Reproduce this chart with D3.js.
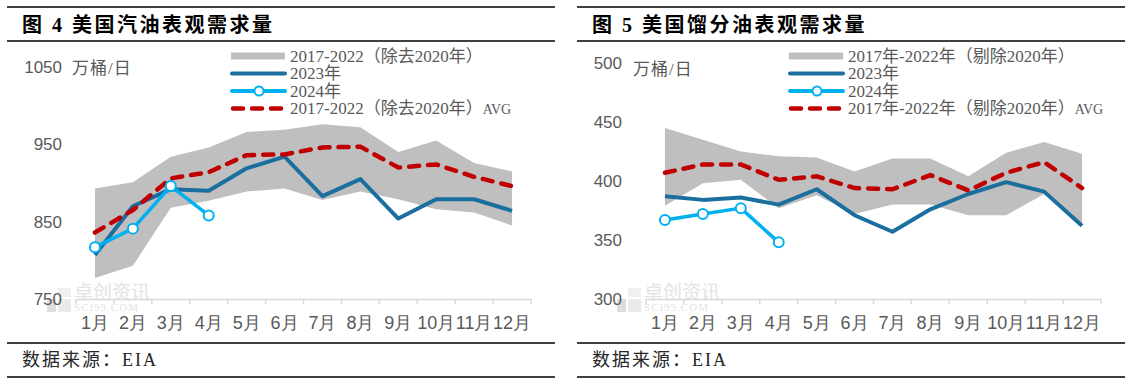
<!DOCTYPE html>
<html>
<head>
<meta charset="utf-8">
<script src="https://cdn.jsdelivr.net/npm/d3@7"></script>
<style>
  body { margin: 0; background: #fff; }
  svg { display: block; font-family: 'Liberation Serif', 'Noto Sans CJK SC', serif; }
</style>
</head>
<body>
<svg id="chart" width="1130" height="384"></svg>
<script>
// months on the x axis
var months = ["1月","2月","3月","4月","5月","6月","7月","8月","9月","10月","11月","12月"];

// 图4 汽油 (万桶/日)
var gasHigh = [893, 901, 934, 946, 966, 969, 976, 972, 940, 955, 926, 915];
var gasLow  = [777, 793, 868, 877, 889, 893, 878, 889, 879, 866, 862, 845];
var gas2023 = [807, 870, 892, 890, 919, 934, 883, 905, 854, 879, 879, 864];
var gas2024 = [817, 841, 896, 858];
var gasAvg  = [836, 865, 906, 914, 936, 937, 946, 947, 920, 924, 908, 896];
var gasTicks = [750, 850, 950, 1050];

// 图5 馏分油 (万桶/日)
var distHigh = [445, 435, 425, 421, 420, 408, 419, 419, 404, 424, 433, 423];
var distLow  = [379, 398, 401, 377, 388, 372, 380, 380, 371, 371, 389, 362];
var dist2023 = [387, 384, 386, 380, 393, 371, 357, 376, 389, 399, 391, 362];
var dist2024 = [367, 372, 377, 348];
var distAvg  = [407, 414, 414, 401, 404, 394, 393, 405, 392, 407, 416, 394];
var distTicks = [300, 350, 400, 450, 500];

var gray = "#bfbfbf", dark = "#1b6f9f", light = "#00b0f0", red = "#c00000", txt = "#595959";

var svg = d3.select("#chart");

function panel(cfg) {
    var g = svg.append("g");
    var x0 = cfg.left;

    var x = d3.scaleBand().domain(months).range(cfg.xRange);
    var y = d3.scaleLinear().domain(cfg.yDomain).range(cfg.yRange);
    var cx = function(d, i) { return x(months[i]) + x.bandwidth() / 2; };

    // frame lines
    [7, 41, 343, 377].forEach(function(yy) {
        g.append("line").attr("x1", x0).attr("x2", x0 + 548)
            .attr("y1", yy).attr("y2", yy)
            .attr("stroke", "#000").attr("stroke-width", 1.5);
    });

    g.append("text").attr("x", x0 + 15).attr("y", 25)
        .attr("dominant-baseline", "central")
        .attr("font-size", 20).attr("font-weight", "bold").attr("fill", "#000")
        .attr("letter-spacing", 2.5)
        .text(cfg.title);

    g.append("text").attr("x", x0 + 15).attr("y", 360)
        .attr("dominant-baseline", "central")
        .attr("font-size", 18).attr("fill", "#262626").attr("letter-spacing", 2)
        .text("数据来源：EIA");

    // watermark
    var wm = g.append("g").attr("opacity", 0.5);
    wm.append("rect").attr("x", x0 + 40).attr("y", 299).attr("width", 9).attr("height", 13).attr("fill", "#bdbdbd");
    wm.append("rect").attr("x", x0 + 51).attr("y", 299).attr("width", 13).attr("height", 13).attr("fill", "#d6d6d6");
    wm.append("rect").attr("x", x0 + 51).attr("y", 288).attr("width", 13).attr("height", 9).attr("fill", "#e2e2e2");
    wm.append("text").attr("x", x0 + 67).attr("y", 292).attr("dominant-baseline", "central")
        .attr("font-size", 19).attr("fill", "#c8c8c8").text("卓创资讯");
    wm.append("text").attr("x", x0 + 67).attr("y", 307).attr("dominant-baseline", "central")
        .attr("font-size", 11).attr("fill", "#c8c8c8").attr("letter-spacing", 1).text("SCI99.COM");

    // band 2017-2022
    var area = d3.area().x(cx)
        .y0(function(d, i) { return y(cfg.low[i]); })
        .y1(function(d) { return y(d); });
    g.append("path").datum(cfg.high).attr("d", area).attr("fill", gray);

    var line = d3.line().x(cx).y(function(d) { return y(d); });

    g.append("path").datum(cfg.y2023).attr("d", line)
        .attr("fill", "none").attr("stroke", dark).attr("stroke-width", 4)
        .attr("stroke-linejoin", "round");

    g.append("path").datum(cfg.avg).attr("d", line)
        .attr("fill", "none").attr("stroke", red).attr("stroke-width", 4.5)
        .attr("stroke-dasharray", "10 9").attr("stroke-linecap", "round");

    g.append("path").datum(cfg.y2024).attr("d", line)
        .attr("fill", "none").attr("stroke", light).attr("stroke-width", 3.5)
        .attr("stroke-linejoin", "round");
    g.selectAll(".dot").data(cfg.y2024).enter().append("circle")
        .attr("cx", cx).attr("cy", function(d) { return y(d); })
        .attr("r", 5).attr("fill", "#fff").attr("stroke", light).attr("stroke-width", 2);

    // x axis
    var xa = g.append("g").attr("transform", "translate(0," + cfg.yRange[0] + ")")
        .call(d3.axisBottom(x).tickSize(0));
    xa.select(".domain").attr("stroke", "#d9d9d9").attr("stroke-width", 1.5);
    xa.selectAll("text").attr("y", 24).attr("dy", "0.35em")
        .attr("font-size", 18).attr("fill", txt).attr("font-family", null);
    d3.range(13).forEach(function(i) {
        var xx = cfg.xRange[0] + i * x.bandwidth();
        xa.append("line").attr("x1", xx).attr("x2", xx).attr("y1", 0).attr("y2", 5)
            .attr("stroke", "#d9d9d9").attr("stroke-width", 1.5);
    });

    // y labels
    var ya = g.append("g").attr("transform", "translate(" + cfg.yLabelX + ",0)")
        .call(d3.axisLeft(y).tickValues(cfg.ticks).tickSize(0).tickPadding(0).tickFormat(d3.format("d")));
    ya.select(".domain").remove();
    ya.selectAll("text").attr("font-size", 17).attr("fill", txt).attr("font-family", null);

    g.append("text").attr("x", cfg.unitX).attr("y", cfg.unitY)
        .attr("dominant-baseline", "central")
        .attr("font-size", 17).attr("fill", txt).attr("letter-spacing", 1).text("万桶/日");

    // legend
    var lx = cfg.legendX, ly = [56, 73.5, 91, 108.5];
    var lg = g.append("g").attr("font-size", 17).attr("fill", txt);
    lg.append("rect").attr("x", lx).attr("y", ly[0] - 3.5).attr("width", 54).attr("height", 7).attr("fill", gray);
    lg.append("line").attr("x1", lx + 1).attr("x2", lx + 54).attr("y1", ly[1]).attr("y2", ly[1])
        .attr("stroke", dark).attr("stroke-width", 4).attr("stroke-linecap", "round");
    lg.append("line").attr("x1", lx + 1).attr("x2", lx + 54).attr("y1", ly[2]).attr("y2", ly[2])
        .attr("stroke", light).attr("stroke-width", 4).attr("stroke-linecap", "round");
    lg.append("circle").attr("cx", lx + 28).attr("cy", ly[2]).attr("r", 4.5)
        .attr("fill", "#fff").attr("stroke", light).attr("stroke-width", 2);
    lg.append("line").attr("x1", lx + 2).attr("x2", lx + 54).attr("y1", ly[3]).attr("y2", ly[3])
        .attr("stroke", red).attr("stroke-width", 4.5).attr("stroke-linecap", "round")
        .attr("stroke-dasharray", "10 9");
    cfg.labels.forEach(function(t, i) {
        var tt = lg.append("text").attr("x", lx + 59).attr("y", ly[i]).attr("dominant-baseline", "central").text(t);
        if (i == 3) tt.append("tspan").attr("font-size", 14).text("AVG");
    });
}

panel({
    left: 7, title: "图 4 美国汽油表观需求量",
    xRange: [76, 531], yDomain: [750, 1050], yRange: [299, 67],
    high: gasHigh, low: gasLow, y2023: gas2023, y2024: gas2024, avg: gasAvg,
    ticks: gasTicks, yLabelX: 62, unitX: 72, unitY: 68, legendX: 231,
    labels: ["2017-2022（除去2020年）", "2023年", "2024年", "2017-2022（除去2020年）"]
});

panel({
    left: 577, title: "图 5 美国馏分油表观需求量",
    xRange: [646, 1101], yDomain: [300, 500], yRange: [299, 63],
    high: distHigh, low: distLow, y2023: dist2023, y2024: dist2024, avg: distAvg,
    ticks: distTicks, yLabelX: 622, unitX: 633, unitY: 69, legendX: 789,
    labels: ["2017年-2022年（剔除2020年）", "2023年", "2024年", "2017年-2022年（剔除2020年）"]
});
</script>
</body>
</html>
